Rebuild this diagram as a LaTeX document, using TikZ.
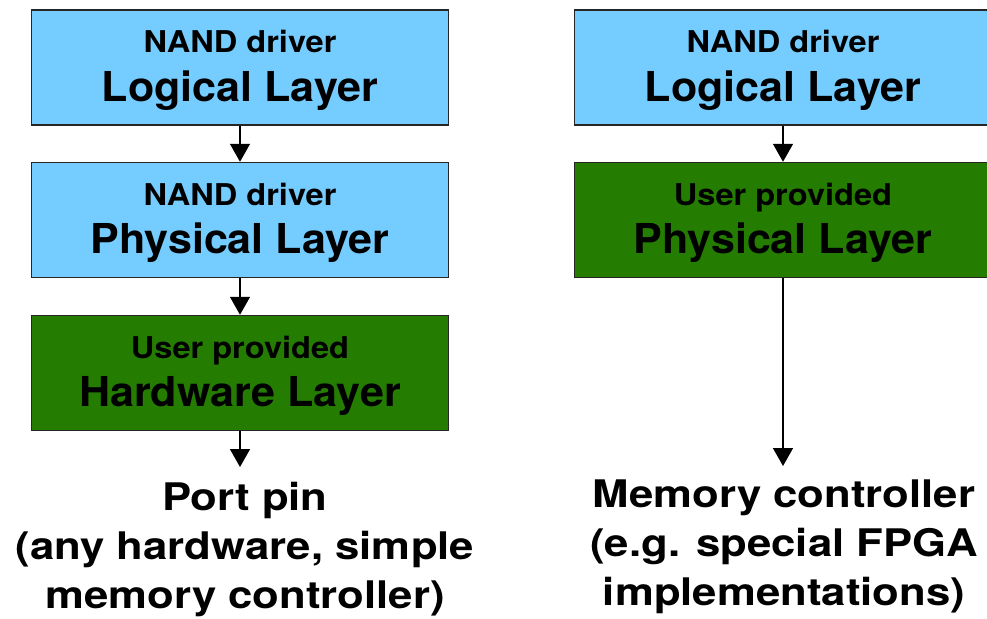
\documentclass[tikz,border=0pt]{standalone}
\usepackage{fontspec}
\setmainfont{TeX Gyre Heros}
\newfontfamily\smallfont{TeX Gyre Heros}[FakeStretch=1.085]
\newfontfamily\bigfont{TeX Gyre Heros}[FakeStretch=1.045]
\newfontfamily\notefont{TeX Gyre Heros}[FakeStretch=1.15]
\usetikzlibrary{arrows.meta}
\definecolor{layerblue}{RGB}{117,204,255}
\definecolor{layergreen}{RGB}{36,125,0}
\tikzset{
	layer/.style={draw=black!85, line width=1.5pt, minimum width=417pt, minimum height=115pt, inner sep=0pt},
	drv/.style={layer, fill=layerblue},
	usr/.style={layer, fill=layergreen},
	toptxt/.style={anchor=base, inner sep=0pt, font=\smallfont\fontsize{30}{36}\selectfont\bfseries},
	bigtxt/.style={anchor=base, inner sep=0pt, font=\bigfont\fontsize{41.2}{49}\selectfont\bfseries},
	target/.style={anchor=north, inner sep=0pt, align=center, font=\notefont\fontsize{38}{49}\selectfont\bfseries},
	flow/.style={line width=1.5pt, -{Triangle[length=18pt,width=20pt]}}
}
\begin{document}
\begin{tikzpicture}[x=1pt, y=-1pt]
		%%%%% START %%%%%
		\useasboundingbox (0,0) rectangle (987,618);
		
		% left stack
		\node[drv] (llog) at (240, 67.5) {};
		\node[toptxt] (llog1) at ([yshift=-43.5pt]llog.north) {NAND driver};
		\node[bigtxt] (llog2) at ([yshift=-92pt]llog.north) {Logical Layer};
		
		\node[drv] (lphy) at (240, 220) {};
		\node[toptxt] (lphy1) at ([yshift=-43.5pt]lphy.north) {NAND driver};
		\node[bigtxt] (lphy2) at ([yshift=-92pt]lphy.north) {Physical Layer};
		
		\node[usr] (lhw) at (240, 373) {};
		\node[toptxt] (lhw1) at ([yshift=-43.5pt]lhw.north) {User provided};
		\node[bigtxt] (lhw2) at ([yshift=-92pt]lhw.north) {Hardware Layer};
		
		\coordinate (lend) at (240, 467);
		\node[target] (pin) at (245, 482) {Port pin\\(any hardware, simple\\memory controller)};
		
		\draw[flow] (llog.south) -- (lphy.north);
		\draw[flow] (lphy.south) -- (lhw.north);
		\draw[flow] (lhw.south) -- (lend);
		
		% right stack
		\node[drv] (rlog) at (783, 67.5) {};
		\node[toptxt] (rlog1) at ([yshift=-43.5pt]rlog.north) {NAND driver};
		\node[bigtxt] (rlog2) at ([yshift=-92pt]rlog.north) {Logical Layer};
		
		\node[usr] (rphy) at (783, 220) {};
		\node[toptxt] (rphy1) at ([yshift=-43.5pt]rphy.north) {User provided};
		\node[bigtxt] (rphy2) at ([yshift=-92pt]rphy.north) {Physical Layer};
		
		\coordinate (rend) at (783, 466);
		\node[target] (memctl) at (784, 480) {Memory controller\\(e.g. special FPGA\\implementations)};
		
		\draw[flow] (rlog.south) -- (rphy.north);
		\draw[flow] (rphy.south) -- (rend);
		%%%%% END %%%%%
	\end{tikzpicture}
\end{document}
